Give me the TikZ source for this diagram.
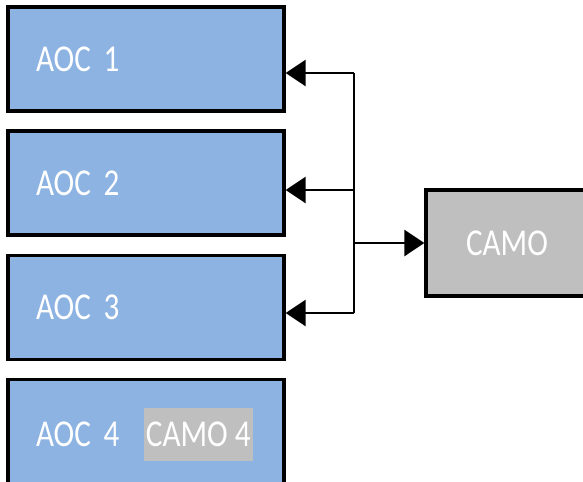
\documentclass[tikz,border=0pt]{standalone}
\usepackage{fontspec}
\setmainfont{Carlito}[FakeStretch=0.82]
\usetikzlibrary{positioning,arrows.meta}
\definecolor{aocblue}{HTML}{8DB3E2}
\definecolor{camogray}{HTML}{BFBFBF}

\begin{document}
\begin{tikzpicture}[node distance=0.42cm,>={Triangle[length=5mm,width=6.5mm]}]
        \tikzstyle{aoc}=[rectangle, draw=black, line width=2.4pt, fill=aocblue, minimum width=6.9cm, minimum height=2.6cm, text width=5.5cm, inner xsep=0.7cm, align=left, text=white, font=\fontsize{27}{32}\selectfont]
        \tikzstyle{camo}=[rectangle, draw=black, line width=2.4pt, fill=camogray, minimum width=4.05cm, minimum height=2.65cm, text=white, font=\fontsize{27}{32}\selectfont]
        \tikzstyle{tag}=[rectangle, fill=camogray, inner xsep=0.05cm, minimum height=1.325cm, text=white, font=\fontsize{27}{32}\selectfont]
        \tikzstyle{link}=[line width=2.1pt]
        \path[use as bounding box, clip] (0,0) rectangle (14.575,-12.025);
        \node[aoc] (aoc1) at (3.65,-1.475) {AOC 1};
        \node[aoc,below=of aoc1] (aoc2) {AOC 2};
        \node[aoc,below=of aoc2] (aoc3) {AOC 3};
        \node[aoc,below=of aoc3,minimum height=2.75cm] (aoc4) {AOC 4};
        \node[tag,xshift=4.8cm] (camo4) at (aoc4.west) {CAMO 4};
        \node[camo] (camo) at (12.675,-6.075) {CAMO};
        % bus between the AOCs and the CAMO
        \coordinate (bus1) at (8.85,-1.825);
        \coordinate (bus2) at (8.85,-4.75);
        \coordinate (bus3) at (8.85,-7.825);
        \draw[link] (bus1) -- (bus3);
        \draw[->,link] (bus1) -- (bus1 -| aoc1.east);
        \draw[->,link] (bus2) -- (bus2 -| aoc2.east);
        \draw[->,link] (bus3) -- (bus3 -| aoc3.east);
        \draw[->,link] (bus1 |- camo.west) -- (camo.west);
\end{tikzpicture}
\end{document}
